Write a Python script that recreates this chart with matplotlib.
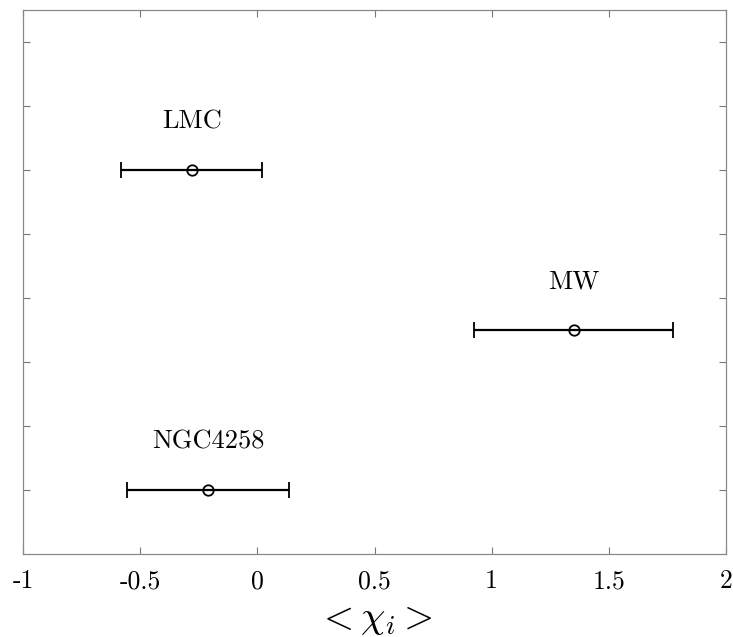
import matplotlib
matplotlib.use("Agg")
import matplotlib.pyplot as plt

plt.rcParams['font.family'] = ['cmr10', 'DejaVu Serif']
plt.rcParams['mathtext.fontset'] = 'cm'
plt.rcParams['axes.unicode_minus'] = False
plt.rcParams['axes.formatter.use_mathtext'] = False

names = ["LMC", "MW", "NGC4258"]
chi_mean = [-0.28, 1.35, -0.21]
chi_err = [0.30, 0.425, 0.345]
ypos = [6.0, 3.5, 1.0]
label_offset = 0.75

xticks = [-1, -0.5, 0, 0.5, 1, 1.5, 2]
xticklabels = ["-1", "-0.5", "0", "0.5", "1", "1.5", "2"]
yticks = [1, 2, 3, 4, 5, 6, 7, 8]

fig = plt.figure(figsize=(7.33, 6.37), dpi=100)
ax = fig.add_axes([23/733, 1 - 554/637, (726-23)/733, (554-10)/637])

ax.errorbar(chi_mean, ypos, xerr=chi_err, fmt='o', color='black',
            mfc='none', mec='black', ms=7.5, mew=1.3, elinewidth=1.6,
            capsize=5.5, capthick=1.6, ecolor='black')

for n, x, y in zip(names, chi_mean, ypos):
    ax.text(x, y + label_offset, n, ha='center', va='center', fontsize=19)

ax.set_xlim(-1, 2)
ax.set_ylim(0, 8.5)
ax.set_xticks(xticks)
ax.set_xticklabels(xticklabels, fontsize=18.5)
ax.set_yticks(yticks)
ax.set_yticklabels([])
ax.tick_params(direction='in', length=5, width=0.8, color='#777777',
               top=True, right=True, pad=11)
for s in ax.spines.values():
    s.set_color('#888888')
    s.set_linewidth(0.9)

ax.set_xlabel(r'$<\chi_i>$', fontsize=28, labelpad=6)

fig.savefig("out.png", dpi=100)
